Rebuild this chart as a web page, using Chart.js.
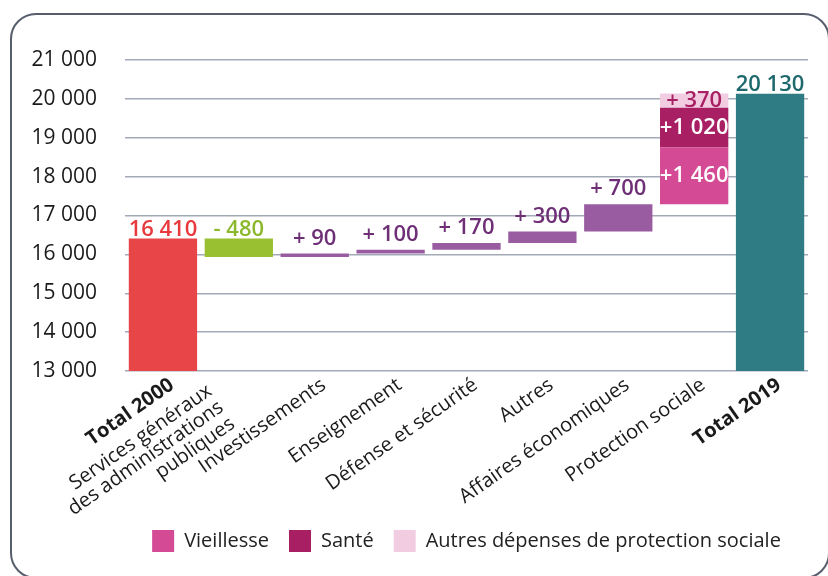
<!DOCTYPE html>
<html>
<head>
<meta charset="utf-8">
<script src="https://cdn.jsdelivr.net/npm/chart.js@4/dist/chart.umd.min.js"></script>
<style>
  html, body { margin: 0; padding: 0; background: #fff; overflow: hidden; }
  #frame { position: absolute; left: 10px; top: 13px; width: 820px; height: 566px;
           border: 2px solid #565e6b; border-radius: 26px; box-sizing: border-box; }
  #wrap { position: absolute; left: 0; top: 0; width: 828px; height: 576px; }
</style>
</head>
<body>
<div id="frame"></div>
<div id="wrap"><canvas id="myChart" width="828" height="576"></canvas></div>
<script>
// categories (x axis)
const categories = [
    'Total 2000',
    ['Services généraux', 'des administrations', 'publiques'],
    'Investissements',
    'Enseignement',
    'Défense et sécurité',
    'Autres',
    'Affaires économiques',
    'Protection sociale',
    'Total 2019'
];
const total2000 = 16410;
const total2019 = 20130;
// variations, from "Services généraux" to "Affaires économiques"
const changes = [-480, 90, 100, 170, 300, 700];
// protection sociale split
const protectionNames = ['Vieillesse', 'Santé', 'Autres dépenses de protection sociale'];
const protectionValues = [1460, 1020, 370];
const yTicks = [13000, 14000, 15000, 16000, 17000, 18000, 19000, 20000, 21000];

const FONT = "'Open Sans', 'Noto Sans', sans-serif";

function fmt(n) {
    return String(Math.abs(n)).replace(/\B(?=(\d{3})+(?!\d))/g, ' ');
}

// build floating bars
let running = total2000;
const mainData = [[13000, total2000]];
const mainColors = ['#e84548'];
const mainLabels = [fmt(total2000)];
const labelColors = ['#e8393c'];
for (let c of changes) {
    mainData.push([running, running + c]);
    mainColors.push(c < 0 ? '#99c031' : '#9a5ca0');
    mainLabels.push((c < 0 ? '- ' : '+ ') + fmt(c));
    labelColors.push(c < 0 ? '#8cb82c' : '#6e2f76');
    running += c;
}
mainData.push(null);
mainColors.push('#000');
mainLabels.push('');
labelColors.push('#000');
mainData.push([13000, total2019]);
mainColors.push('#2f7c85');
mainLabels.push(fmt(total2019));
labelColors.push('#1d686c');

const protColors = ['#d44a94', '#a81f64', '#f2cde1'];
const protLabelColors = ['#ffffff', '#ffffff', '#a81f64'];
const protSets = protectionValues.map((v, i) => {
    const data = categories.map(() => null);
    data[7] = [running, running + v];
    const lbl = (v >= 1000 ? '+' : '+ ') + fmt(v);
    running += v;
    return {
        label: protectionNames[i],
        data: data,
        backgroundColor: protColors[i],
        grouped: false,
        barPercentage: 0.9,
        categoryPercentage: 1,
        valueLabel: lbl,
        valueColor: protLabelColors[i]
    };
});

const labelPlugin = {
    id: 'valueLabels',
    afterDatasetsDraw(chart) {
        const ctx = chart.ctx;
        ctx.save();
        ctx.font = '600 22px ' + FONT;
        ctx.textAlign = 'center';
        chart.data.datasets.forEach((ds, di) => {
            const meta = chart.getDatasetMeta(di);
            meta.data.forEach((el, i) => {
                if (ds.data[i] == null) return;
                const top = Math.min(el.y, el.base);
                const bottom = Math.max(el.y, el.base);
                if (di === 0) {
                    ctx.fillStyle = labelColors[i];
                    ctx.textBaseline = 'bottom';
                    const gap = (i === 0 || i === 1 || i === 8) ? -2 : 4;
                    ctx.fillText(mainLabels[i], el.x, top - gap);
                } else {
                    ctx.fillStyle = ds.valueColor;
                    ctx.textBaseline = 'middle';
                    ctx.fillText(ds.valueLabel, el.x, (top + bottom) / 2);
                }
            });
        });
        ctx.restore();
    }
};

// rotated category labels, drawn by hand so multi-line text lines up like the original
const xLabelPlugin = {
    id: 'xLabels',
    afterDraw(chart) {
        const ctx = chart.ctx;
        const xs = chart.scales.x;
        const axisY = chart.chartArea.bottom;
        const ang = -35 * Math.PI / 180;
        ctx.save();
        ctx.fillStyle = '#1a1a1a';
        ctx.textAlign = 'right';
        ctx.textBaseline = 'middle';
        categories.forEach((lab, i) => {
            const lines = Array.isArray(lab) ? lab : [lab];
            const bold = (i === 0 || i === categories.length - 1);
            ctx.font = (bold ? 'bold ' : '') + '20px ' + FONT;
            const extra = lines.length - 1;
            const x0 = xs.getPixelForValue(i) + 9 - extra * 19;
            const y0 = axisY + 12 + extra * 3;
            lines.forEach((ln, k) => {
                ctx.save();
                ctx.translate(x0 + k * 11.5, y0 + k * 16.4);
                ctx.rotate(ang);
                ctx.fillText(ln, 0, 0);
                ctx.restore();
            });
        });
        ctx.restore();
    }
};

const data = {
    labels: categories,
    datasets: [{
        label: 'main',
        data: mainData,
        backgroundColor: mainColors,
        grouped: false,
        barPercentage: 0.9,
        categoryPercentage: 1
    }].concat(protSets)
};

const config = {
    type: 'bar',
    data: data,
    options: {
        responsive: false,
        animation: false,
        layout: { padding: { top: 60, right: 20, bottom: 14, left: 0 } },
        plugins: {
            tooltip: { enabled: false },
            legend: {
                position: 'bottom',
                fullSize: false,
                labels: {
                    filter: item => item.datasetIndex > 0,
                    boxWidth: 22,
                    boxHeight: 22,
                    padding: 20,
                    color: '#222',
                    font: { family: FONT, size: 20 }
                }
            }
        },
        scales: {
            x: {
                grid: { display: false },
                border: { display: false },
                ticks: { display: false },
                afterFit: (scale) => { scale.height = 139; }
            },
            y: {
                min: 13000,
                max: 21000,
                afterBuildTicks: (scale) => { scale.ticks = yTicks.map(v => ({ value: v })); },
                afterFit: (scale) => { scale.width = 125; },
                grid: { color: '#a3aab7', lineWidth: 1.5, drawTicks: false },
                border: { display: false },
                ticks: {
                    padding: 28,
                    color: '#1a1a1a',
                    font: { family: FONT, size: 21 },
                    callback: v => fmt(v)
                }
            }
        }
    },
    plugins: [labelPlugin, xLabelPlugin]
};

const myChart = new Chart(document.getElementById('myChart'), config);
</script>
</body>
</html>
